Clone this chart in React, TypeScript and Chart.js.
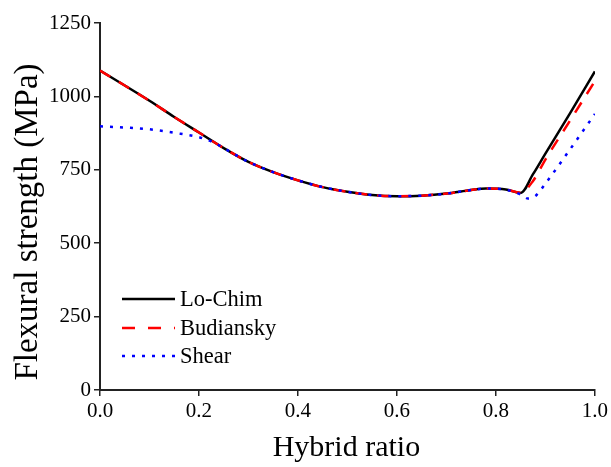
import React, { useEffect, useRef } from "react";
import { Chart, registerables } from "chart.js";

Chart.register(...registerables);

const loChimX = [0, 0.05, 0.1, 0.15, 0.2, 0.25, 0.3, 0.35, 0.4, 0.45, 0.5, 0.55, 0.6, 0.65, 0.7, 0.75, 0.78, 0.82, 0.85, 0.875, 0.9, 0.95, 1.0];
const loChimY = [1088, 1037, 985, 930, 877, 824, 777, 742, 714, 691, 675, 664, 660, 662, 669, 681, 686, 683, 671, 735, 805, 943, 1085];

const budianskyX = [0, 0.05, 0.1, 0.15, 0.2, 0.25, 0.3, 0.35, 0.4, 0.45, 0.5, 0.55, 0.6, 0.65, 0.7, 0.75, 0.78, 0.82, 0.85, 0.875, 0.9, 0.95, 1.0];
const budianskyY = [1088, 1037, 985, 930, 877, 824, 777, 742, 714, 691, 675, 664, 660, 662, 669, 681, 686, 683, 672, 712, 785, 918, 1052];

const shearX = [0, 0.05, 0.1, 0.15, 0.2, 0.23, 0.25, 0.3, 0.35, 0.4, 0.45, 0.5, 0.55, 0.6, 0.65, 0.7, 0.75, 0.78, 0.82, 0.85, 0.865, 0.88, 0.9, 0.95, 1.0];
const shearY = [898, 894, 888, 876, 861, 843, 824, 777, 742, 714, 691, 675, 664, 660, 662, 669, 681, 686, 682, 666, 652, 661, 703, 820, 940];

const seriesNames = ["Lo-Chim", "Budiansky", "Shear"];
const xTicks = [0, 0.2, 0.4, 0.6, 0.8, 1.0];
const yTicks = [0, 250, 500, 750, 1000, 1250];
const xTitle = "Hybrid ratio";
const yTitle = "Flexural strength (MPa)";

const pts = (xs: number[], ys: number[]) => xs.map((x, i) => ({ x, y: ys[i] }));

const FONT = "'Liberation Serif', 'Times New Roman', serif";

const decorPlugin = {
  id: "decor",
  afterDraw(chart: any) {
    const ctx = chart.ctx;
    const area = chart.chartArea;
    ctx.save();
    ctx.fillStyle = "#000";
    ctx.textAlign = "center";
    ctx.textBaseline = "middle";
    ctx.font = `30px ${FONT}`;
    ctx.fillText(xTitle, (area.left + area.right) / 2 - 1, 448);
    ctx.translate(28, 222);
    ctx.rotate(-Math.PI / 2);
    ctx.font = `33px ${FONT}`;
    ctx.fillText(yTitle, 0, 0);
    ctx.restore();

    const items = [
      { label: seriesNames[0], color: "#000000", dash: [] as number[] },
      { label: seriesNames[1], color: "#ff0000", dash: [13, 13] },
      { label: seriesNames[2], color: "#0000ff", dash: [3, 7] },
    ];
    const x0 = area.left + 22;
    const lineLen = 53;
    const ys = [299, 328, 356];
    ctx.save();
    items.forEach((it, i) => {
      const y = ys[i];
      ctx.beginPath();
      ctx.setLineDash(it.dash);
      ctx.strokeStyle = it.color;
      ctx.lineWidth = 2.5;
      ctx.moveTo(x0, y);
      ctx.lineTo(x0 + lineLen, y);
      ctx.stroke();
      ctx.setLineDash([]);
      ctx.fillStyle = "#000";
      ctx.font = `22.5px ${FONT}`;
      ctx.textBaseline = "middle";
      ctx.textAlign = "left";
      ctx.fillText(it.label, x0 + lineLen + 5, y + 1);
    });
    ctx.restore();
  },
};

export default function App() {
  const ref = useRef<HTMLCanvasElement | null>(null);
  useEffect(() => {
    if (!ref.current) return;
    const chart = new Chart(ref.current, {
      type: "line",
      data: {
        datasets: [
          {
            label: seriesNames[0],
            data: pts(loChimX, loChimY),
            borderColor: "#000000",
            borderWidth: 2.5,
            pointRadius: 0,
            cubicInterpolationMode: "monotone",
            order: 2,
          },
          {
            label: seriesNames[1],
            data: pts(budianskyX, budianskyY),
            borderColor: "#ff0000",
            borderWidth: 2.5,
            borderDash: [12, 10],
            pointRadius: 0,
            cubicInterpolationMode: "monotone",
            order: 1,
          },
          {
            label: seriesNames[2],
            data: pts(shearX, shearY),
            borderColor: "#0000ff",
            borderWidth: 2.5,
            borderDash: [3, 7],
            pointRadius: 0,
            cubicInterpolationMode: "monotone",
            order: 0,
          },
        ],
      },
      options: {
        animation: false,
        responsive: false,
        maintainAspectRatio: false,
        layout: { padding: { top: 23, right: 15, left: 0, bottom: 0 } },
        plugins: { legend: { display: false }, tooltip: { enabled: false } },
        scales: {
          x: {
            type: "linear",
            min: 0,
            max: 1,
            afterBuildTicks: (s: any) => {
              s.ticks = xTicks.map((v) => ({ value: v }));
            },
            afterFit: (s: any) => {
              s.height = 77;
            },
            ticks: {
              callback: (v: any) => Number(v).toFixed(1),
              color: "#000",
              font: { family: FONT, size: 21 },
              padding: 3,
              maxRotation: 0,
            },
            grid: { drawOnChartArea: false, drawTicks: true, tickLength: 6, color: "#222", lineWidth: 1.5 },
            border: { display: true, color: "#222", width: 2 },
          },
          y: {
            type: "linear",
            min: 0,
            max: 1250,
            afterBuildTicks: (s: any) => {
              s.ticks = yTicks.map((v) => ({ value: v }));
            },
            afterFit: (s: any) => {
              s.width = 100;
            },
            ticks: {
              callback: (v: any) => String(v),
              color: "#000",
              font: { family: FONT, size: 21 },
              padding: 3,
            },
            grid: { drawOnChartArea: false, drawTicks: true, tickLength: 6, color: "#222", lineWidth: 1.5 },
            border: { display: true, color: "#222", width: 2 },
          },
        },
      },
      plugins: [decorPlugin],
    } as any);
    return () => chart.destroy();
  }, []);
  return (
    <div style={{ position: "fixed", left: 0, top: 0, width: 611, height: 467, background: "#fff" }}>
      <canvas ref={ref} width={611} height={467} style={{ width: 611, height: 467 }} />
    </div>
  );
}
